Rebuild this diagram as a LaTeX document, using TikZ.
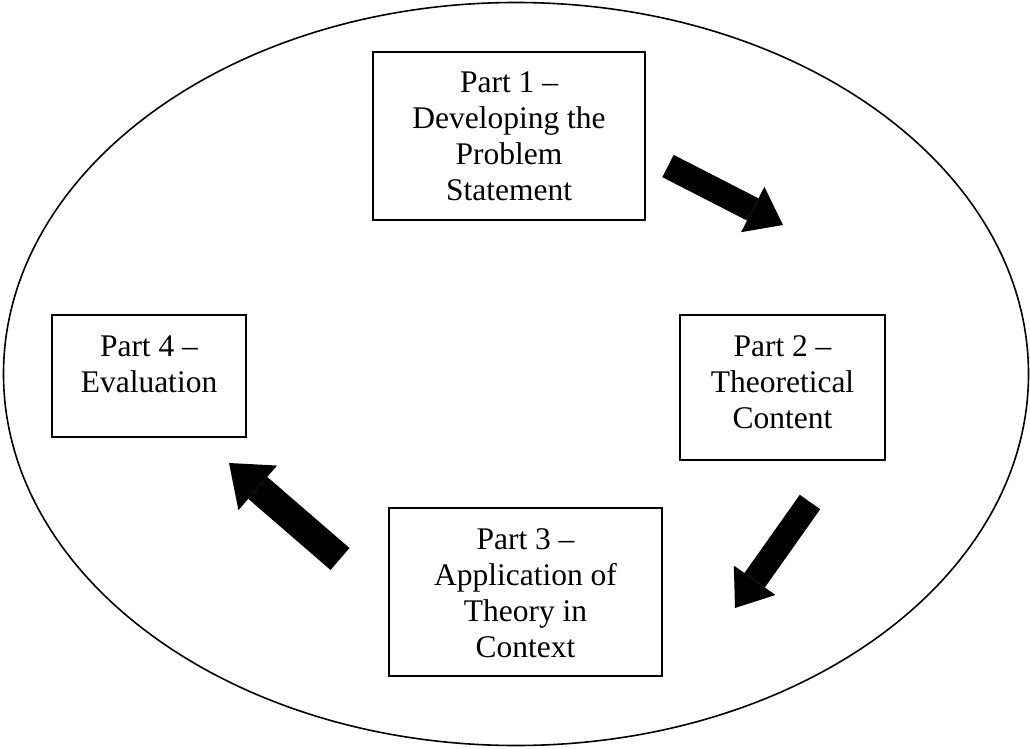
\documentclass[tikz,border=0pt]{standalone}
\usepackage{fontspec}
\setmainfont{Liberation Serif}
\usetikzlibrary{arrows.meta}

\begin{document}
\begin{tikzpicture}[x=1pt, y=-1pt,
  partbox/.style={draw=black, line width=2pt, minimum width=#1, inner sep=0pt},
  parttext/.style={anchor=north, inner sep=0pt, align=center,
    font=\fontsize{31.5}{36}\selectfont},
  loop/.style={draw=black, line width=1.6pt},
  bigarrow/.style={line width=#1, -{Triangle[length=34pt, width=51pt, line width=0pt]}}
]
\useasboundingbox (0,0) rectangle (1030,749);

% surrounding cycle
\draw[loop] (516,374) ellipse [x radius=512.5, y radius=371.5];

% the four parts
\node[partbox=272pt, minimum height=168pt] (p1) at (509,136) {};
\node[partbox=205pt, minimum height=145pt] (p2) at (782.5,387.5) {};
\node[partbox=273pt, minimum height=168pt] (p3) at (525.5,592) {};
\node[partbox=194pt, minimum height=122pt] (p4) at (149,376) {};

\node[parttext] (t1) at ([yshift=-21pt]p1.north) {Part 1 –\\Developing the\\Problem\\Statement};
\node[parttext] (t2) at ([yshift=-21pt]p2.north) {Part 2 –\\Theoretical\\Content};
\node[parttext] (t3) at ([yshift=-21pt]p3.north) {Part 3 –\\Application of\\Theory in\\Context};
\node[parttext] (t4) at ([yshift=-22pt]p4.north) {Part 4 –\\Evaluation};

% block arrows between the parts
\coordinate (a1s) at (668,166);
\coordinate (a1e) at (783,225);
\coordinate (a2s) at (810,502);
\coordinate (a2e) at (735,608);
\coordinate (a3s) at (340,559);
\coordinate (a3e) at (229,463);

\draw[bigarrow=25pt] (a1s) -- (a1e);
\draw[bigarrow=25pt] (a2s) -- (a2e);
\draw[line width=29pt, -{Triangle[length=38pt, width=59pt, line width=0pt]}] (a3s) -- (a3e);
\end{tikzpicture}
\end{document}
